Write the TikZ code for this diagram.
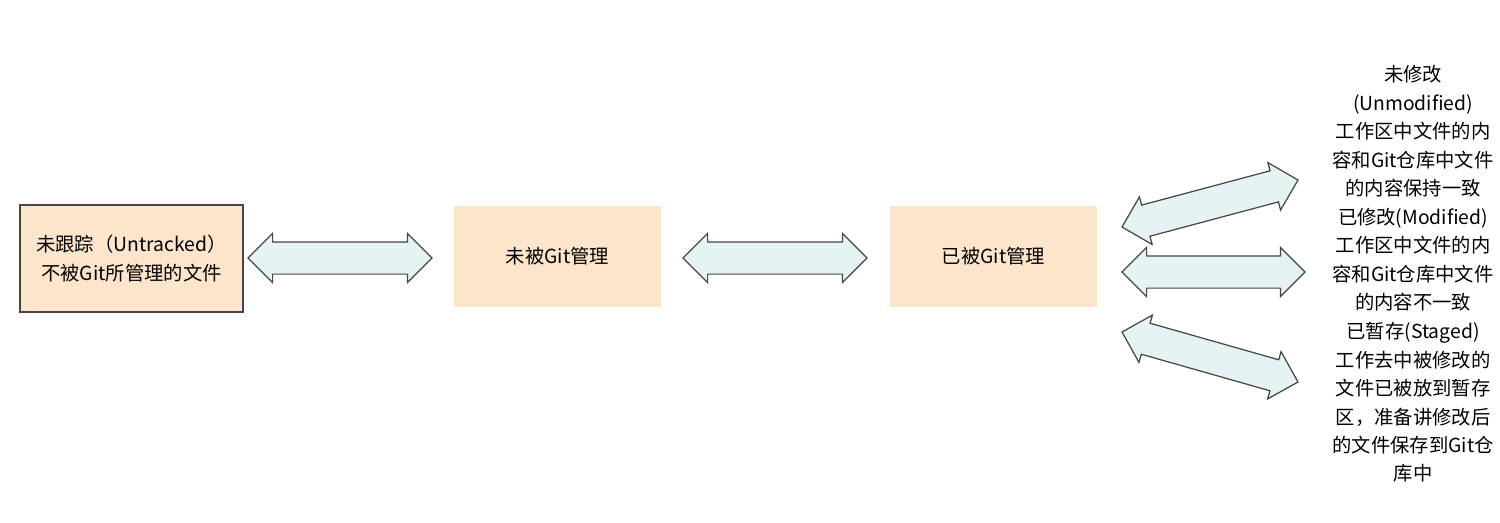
\documentclass[tikz,border=0pt]{standalone}
\usepackage{fontspec}
\newfontfamily\cjk{Noto Sans CJK SC}
\usepackage{tikz}
\usetikzlibrary{positioning}
\usetikzlibrary{calc}
\usetikzlibrary{shapes.arrows}
\definecolor{boxC}{RGB}{252,229,203}
\definecolor{arrC}{RGB}{230,243,243}
\definecolor{lineC}{RGB}{70,70,70}
\tikzstyle{gbox}=[shape=rectangle, fill=boxC, align=center, inner sep=0pt, font=\cjk\fontsize{11}{16.2}\selectfont]
\tikzstyle{gtxt}=[shape=rectangle, align=center, inner sep=0pt, font=\cjk\fontsize{11}{16.2}\selectfont]
\tikzstyle{darrow}=[shape=double arrow, draw=lineC, fill=arrC, line width=0.7pt, inner xsep=0pt, inner ysep=0.31cm, minimum width=0.96cm, double arrow head extend=0.17cm, double arrow tip angle=90]
\def\gbox{\node[style=gbox]}
\def\gtxt{\node[style=gtxt]}
% name, from, to
\def\darrow#1#2#3{\path let \p1=(#2), \p2=(#3), \n1={atan2(\y2-\y1,\x2-\x1)}, \n2={veclen(\x2-\x1,\y2-\y1)} in node[darrow, minimum height=\n2, rotate=\n1] (#1) at ($(#2)!0.5!(#3)$) {};}
\begin{document}
\begin{tikzpicture}[x=0.02cm, y=-0.02cm]
      \useasboundingbox (0,0) rectangle (1500,522);
      % boxes
      \gbox (untr) at (131.5,258.5) [draw=lineC, line width=0.7pt, minimum width=4.46cm, minimum height=2.14cm] {未跟踪（Untracked）\\ 不被Git所管理的文件};
      \gbox (unman) [right=4.2cm of untr, yshift=0.04cm, minimum width=4.14cm, minimum height=2.02cm] {未被Git管理};
      \gbox (man)   [right=4.56cm of unman, minimum width=4.16cm, minimum height=2.02cm] {已被Git管理};
      % states
      \gtxt (unmod) at (1413,131.5) {未修改\\(Unmodified)\\工作区中文件的内\\容和Git仓库中文件\\的内容保持一致};
      \gtxt (mod)   at (1413,259.5) {已修改(Modified)\\工作区中文件的内\\容和Git仓库中文件\\的内容不一致};
      \gtxt (stag)  at (1413,402.5) {已暂存(Staged)\\工作去中被修改的\\文件已被放到暂存\\区，准备讲修改后\\的文件保存到Git仓\\库中};
      % arrow ends
      \coordinate (a1) at (248,258);
      \coordinate (b1) at (432,258);
      \coordinate (a2) at (683,258);
      \coordinate (b2) at (867,258);
      \coordinate (a3) at (1122,227);
      \coordinate (b3) at (1298,180);
      \coordinate (a4) at (1122,272);
      \coordinate (b4) at (1305,272);
      \coordinate (a5) at (1122,332);
      \coordinate (b5) at (1298,382);
      % arrows
      \darrow{arr1}{a1}{b1}
      \darrow{arr2}{a2}{b2}
      \darrow{arr3}{a3}{b3}
      \darrow{arr4}{a4}{b4}
      \darrow{arr5}{a5}{b5}
\end{tikzpicture}
\end{document}
